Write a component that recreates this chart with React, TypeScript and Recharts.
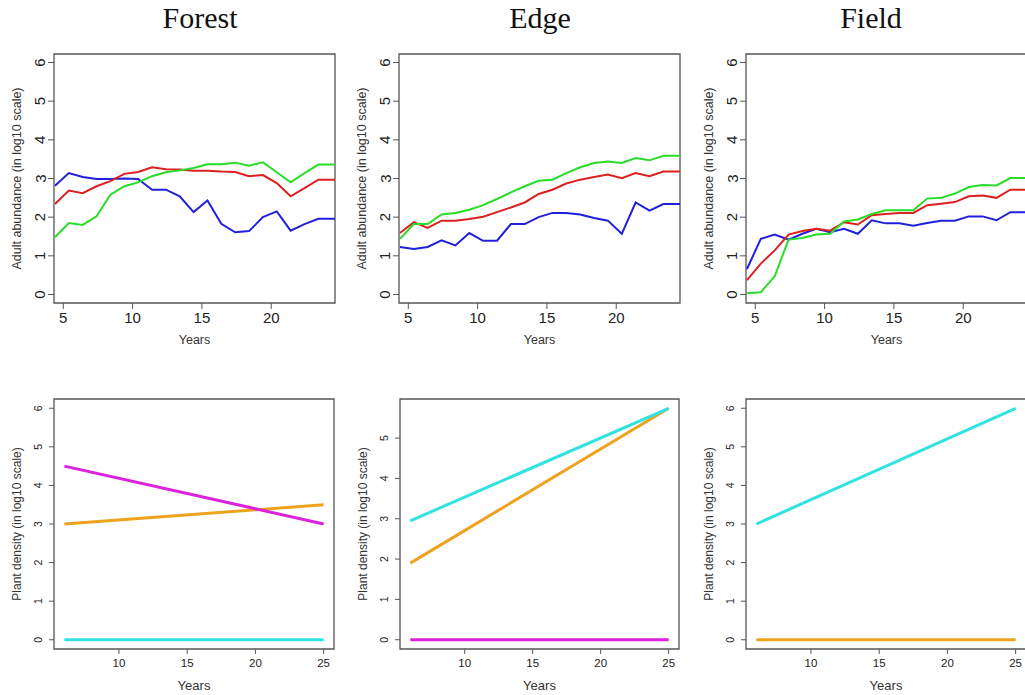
import { LineChart, Line, XAxis, YAxis, ReferenceArea } from 'recharts';

// years for the abundance panels (top row)
const topYears = [4.4, 5.4, 6.4, 7.4, 8.4, 9.4, 10.4, 11.4, 12.4, 13.4, 14.4, 15.4, 16.4, 17.4, 18.4, 19.4, 20.4, 21.4, 22.4, 23.4, 24.6];
// plant density runs from year 6 to year 25 (bottom row)
const bottomYears = [6, 25];

const topXTicks = [5, 10, 15, 20];
const bottomXTicks = [10, 15, 20, 25];
const yTicks6 = [0, 1, 2, 3, 4, 5, 6];
const yTicks5 = [0, 1, 2, 3, 4, 5];

// Forest - adult abundance
const forestBlue = [2.81, 3.14, 3.04, 2.99, 2.99, 3.0, 2.99, 2.71, 2.71, 2.54, 2.13, 2.43, 1.83, 1.61, 1.64, 2.0, 2.15, 1.65, 1.82, 1.96, 1.96];
const forestRed = [2.34, 2.69, 2.62, 2.8, 2.93, 3.12, 3.17, 3.29, 3.24, 3.23, 3.2, 3.2, 3.18, 3.17, 3.06, 3.09, 2.88, 2.54, 2.75, 2.97, 2.97];
const forestGreen = [1.48, 1.85, 1.8, 2.02, 2.58, 2.8, 2.9, 3.06, 3.16, 3.21, 3.27, 3.37, 3.37, 3.41, 3.33, 3.42, 3.16, 2.9, 3.14, 3.36, 3.36];

// Edge - adult abundance
const edgeBlue = [1.23, 1.18, 1.23, 1.4, 1.27, 1.59, 1.39, 1.39, 1.82, 1.82, 2.0, 2.11, 2.11, 2.07, 1.98, 1.91, 1.57, 2.38, 2.17, 2.34, 2.34];
const edgeRed = [1.59, 1.87, 1.72, 1.91, 1.91, 1.95, 2.01, 2.13, 2.25, 2.38, 2.6, 2.71, 2.87, 2.97, 3.04, 3.1, 3.01, 3.14, 3.06, 3.18, 3.18];
const edgeGreen = [1.44, 1.82, 1.82, 2.07, 2.11, 2.19, 2.31, 2.47, 2.64, 2.8, 2.94, 2.97, 3.14, 3.29, 3.4, 3.44, 3.4, 3.53, 3.47, 3.59, 3.59];

// Field - adult abundance
const fieldBlue = [0.66, 1.44, 1.55, 1.42, 1.57, 1.7, 1.61, 1.7, 1.57, 1.92, 1.84, 1.84, 1.78, 1.85, 1.91, 1.91, 2.02, 2.02, 1.92, 2.13, 2.13];
const fieldRed = [0.37, 0.8, 1.14, 1.55, 1.64, 1.7, 1.65, 1.87, 1.81, 2.05, 2.08, 2.11, 2.11, 2.31, 2.35, 2.39, 2.54, 2.56, 2.5, 2.71, 2.71];
const fieldGreen = [0.03, 0.06, 0.47, 1.42, 1.46, 1.55, 1.57, 1.89, 1.94, 2.08, 2.18, 2.18, 2.18, 2.48, 2.5, 2.61, 2.78, 2.83, 2.82, 3.01, 3.01];

// plant density (start, end)
const forestMagenta = [4.5, 3.0];
const forestOrange = [3.0, 3.5];
const forestCyan = [0, 0];
const edgeMagenta = [0, 0];
const edgeOrange = [1.9, 5.74];
const edgeCyan = [2.95, 5.74];
const fieldOrange = [0, 0];
const fieldCyan = [3.0, 6.0];

const BLUE = '#2020dc';
const RED = '#dc2020';
const GREEN = '#28dc28';
const MAGENTA = '#dc22dc';
const ORANGE = '#eea21e';
const CYAN = '#30e2e2';

const SANS = '"Liberation Sans", Arial, sans-serif';

type Series = { key: string; color: string; values: number[] };

type PanelProps = {
  left: number;
  top: number;
  plotX: number; // relative to chart
  plotW: number;
  years: number[];
  series: Series[];
  xDomain: [number, number];
  yDomain: [number, number];
  xTicks: number[];
  yTicks: number[];
  yLabel: string;
  big: boolean;
};

function Panel(p: PanelProps) {
  const chartH = 310;
  const plotY = 14;
  const plotH = p.big ? 249 : 250;
  const width = p.plotX + p.plotW + 10;
  const rows = p.years.map((x, i) => {
    const row: Record<string, number> = { x };
    p.series.forEach((s) => (row[s.key] = s.values[i]));
    return row;
  });
  const tickFont = p.big ? 15 : 11.5;
  const yTickFont = p.big ? 15 : 10.5;
  const tickSize = p.big ? 6 : 5;

  const YTick = (props: any) => {
    const cx = props.x - (p.big ? 6 : 9);
    const cy = props.y;
    return (
      <text
        x={cx}
        y={cy}
        transform={`rotate(-90 ${cx} ${cy})`}
        textAnchor="middle"
        dominantBaseline="central"
        fontSize={yTickFont}
        fontFamily={SANS}
        fill="#222"
      >
        {props.payload.value}
      </text>
    );
  };

  const yLabelFn = () => {
    const cx = 17;
    const cy = plotY + plotH / 2;
    return (
      <text
        x={cx}
        y={cy}
        transform={`rotate(-90 ${cx} ${cy})`}
        textAnchor="middle"
        dominantBaseline="central"
        fontSize={p.big ? 12.5 : 12}
        fontFamily={SANS}
        fill="#333"
      >
        {p.yLabel}
      </text>
    );
  };

  const xLabelFn = () => (
    <text
      x={p.plotX + p.plotW / 2}
      y={300}
      textAnchor="middle"
      dominantBaseline="central"
      fontSize={p.big ? 12.5 : 13}
      fontFamily={SANS}
      fill="#333"
    >
      Years
    </text>
  );

  return (
    <div style={{ position: 'absolute', left: p.left, top: p.top }}>
      <LineChart
        width={width}
        height={chartH}
        data={rows}
        margin={{ top: plotY, right: 10, bottom: 0, left: 0 }}
      >
        <XAxis
          type="number"
          dataKey="x"
          domain={p.xDomain}
          ticks={p.xTicks}
          interval={0}
          allowDataOverflow
          axisLine={false}
          tickSize={tickSize}
          tickMargin={p.big ? 3 : 5}
          tickLine={{ stroke: '#555' }}
          tick={{ fontSize: tickFont, fontFamily: SANS, fill: '#222' }}
          height={chartH - plotY - plotH}
          label={xLabelFn}
        />
        <YAxis
          type="number"
          domain={p.yDomain}
          ticks={p.yTicks}
          interval={0}
          allowDataOverflow
          axisLine={false}
          tickSize={tickSize}
          tickMargin={2}
          tickLine={{ stroke: '#555' }}
          tick={YTick}
          width={p.plotX}
          label={yLabelFn}
        />
        <ReferenceArea
          x1={p.xDomain[0]}
          x2={p.xDomain[1]}
          y1={p.yDomain[0]}
          y2={p.yDomain[1]}
          fill="none"
          fillOpacity={0}
          stroke="#555"
          strokeWidth={1.3}
        />
        {p.series.map((s) => (
          <Line
            key={s.key}
            type="linear"
            dataKey={s.key}
            stroke={s.color}
            strokeWidth={p.big ? 2 : 3}
            dot={false}
            activeDot={false}
            isAnimationActive={false}
          />
        ))}
      </LineChart>
    </div>
  );
}

const titleStyle = (center: number): React.CSSProperties => ({
  position: 'absolute',
  top: 0,
  left: center - 80,
  width: 160,
  textAlign: 'center',
  fontFamily: '"Liberation Serif", "Times New Roman", serif',
  fontSize: 30,
  lineHeight: '36px',
  color: '#111',
});

export default function App() {
  const topX: [number, number] = [4.33, 24.6];
  const topY: [number, number] = [-0.22, 6.22];
  const botX: [number, number] = [5.24, 25.76];
  const botY: [number, number] = [-0.24, 6.24];
  const abundance = 'Adult abundance (in log10 scale)';
  const density = 'Plant density (in log10 scale)';

  return (
    <div
      style={{
        position: 'absolute',
        left: 0,
        top: 0,
        width: 1025,
        height: 695,
        overflow: 'hidden',
        background: '#fff',
      }}
    >
      <div style={titleStyle(200)}>Forest</div>
      <div style={titleStyle(540)}>Edge</div>
      <div style={titleStyle(871)}>Field</div>

      <Panel
        left={0} top={40} plotX={54} plotW={281} big
        years={topYears}
        series={[
          { key: 'blue', color: BLUE, values: forestBlue },
          { key: 'red', color: RED, values: forestRed },
          { key: 'green', color: GREEN, values: forestGreen },
        ]}
        xDomain={topX} yDomain={topY} xTicks={topXTicks} yTicks={yTicks6} yLabel={abundance}
      />
      <Panel
        left={345} top={40} plotX={54} plotW={281} big
        years={topYears}
        series={[
          { key: 'blue', color: BLUE, values: edgeBlue },
          { key: 'red', color: RED, values: edgeRed },
          { key: 'green', color: GREEN, values: edgeGreen },
        ]}
        xDomain={topX} yDomain={topY} xTicks={topXTicks} yTicks={yTicks6} yLabel={abundance}
      />
      <Panel
        left={692} top={40} plotX={54} plotW={281} big
        years={topYears}
        series={[
          { key: 'blue', color: BLUE, values: fieldBlue },
          { key: 'red', color: RED, values: fieldRed },
          { key: 'green', color: GREEN, values: fieldGreen },
        ]}
        xDomain={topX} yDomain={topY} xTicks={topXTicks} yTicks={yTicks6} yLabel={abundance}
      />

      <Panel
        left={0} top={385} plotX={54} plotW={280} big={false}
        years={bottomYears}
        series={[
          { key: 'cyan', color: CYAN, values: forestCyan },
          { key: 'orange', color: ORANGE, values: forestOrange },
          { key: 'magenta', color: MAGENTA, values: forestMagenta },
        ]}
        xDomain={botX} yDomain={botY} xTicks={bottomXTicks} yTicks={yTicks6} yLabel={density}
      />
      <Panel
        left={346} top={385} plotX={54} plotW={279} big={false}
        years={bottomYears}
        series={[
          { key: 'magenta', color: MAGENTA, values: edgeMagenta },
          { key: 'orange', color: ORANGE, values: edgeOrange },
          { key: 'cyan', color: CYAN, values: edgeCyan },
        ]}
        xDomain={botX} yDomain={[-0.23, 5.97]} xTicks={bottomXTicks} yTicks={yTicks5} yLabel={density}
      />
      <Panel
        left={692} top={385} plotX={54} plotW={280} big={false}
        years={bottomYears}
        series={[
          { key: 'orange', color: ORANGE, values: fieldOrange },
          { key: 'cyan', color: CYAN, values: fieldCyan },
        ]}
        xDomain={botX} yDomain={botY} xTicks={bottomXTicks} yTicks={yTicks6} yLabel={density}
      />
    </div>
  );
}
